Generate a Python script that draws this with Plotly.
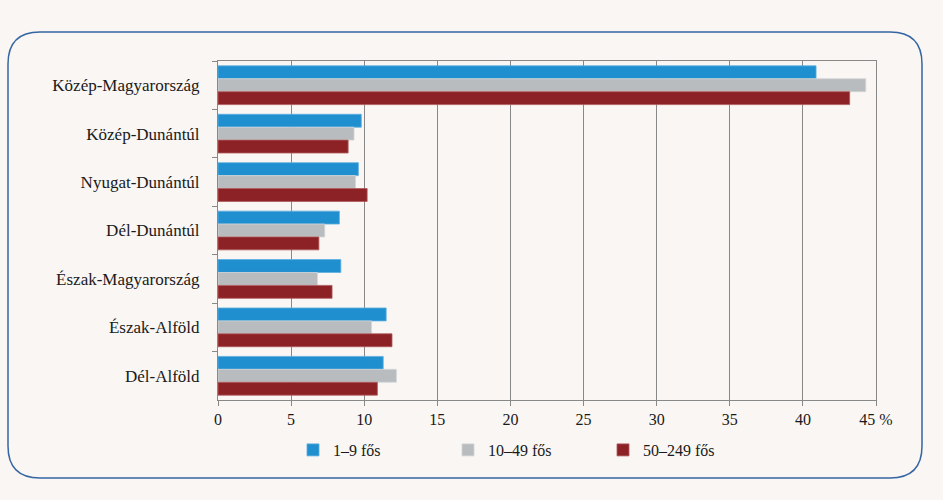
import plotly.graph_objects as go

regions = ["Közép-Magyarország", "Közép-Dunántúl", "Nyugat-Dunántúl", "Dél-Dunántúl",
           "Észak-Magyarország", "Észak-Alföld", "Dél-Alföld"]
size_1_9 = [40.9, 9.8, 9.6, 8.3, 8.4, 11.5, 11.3]
size_10_49 = [44.3, 9.3, 9.4, 7.3, 6.8, 10.5, 12.2]
size_50_249 = [43.2, 8.9, 10.2, 6.9, 7.8, 11.9, 10.9]
series_names = ["1–9 fős", "10–49 fős", "50–249 fős"]
x_ticks = [0, 5, 10, 15, 20, 25, 30, 35, 40, 45]
x_ticktext = ["0", "5", "10", "15", "20", "25", "30", "35", "40", "45 %"]

colors = ["#1f8fd0", "#b9bcbf", "#8c2226"]
edge = ["#5eaee0", "#d3d5d7", "#b05a5c"]
BG = "#f9f6f3"

W, H = 943, 500
ml, mr, mt, mb = 218, 67, 61, 100
pw, ph = W - ml - mr, H - mt - mb

fig = go.Figure()
for name, vals, c, e in zip(series_names, [size_1_9, size_10_49, size_50_249], colors, edge):
    fig.add_trace(go.Bar(y=regions, x=vals, name=name, orientation="h",
                         marker=dict(color=c, line=dict(color=e, width=0.8))))

def px2paper(x, y):
    return (x - ml) / pw, (H - mb - y) / ph

# rounded frame
x0, y0, x1, y1, r = 8, 32, 922, 478, 32
def P(x, y):
    a, b = px2paper(x, y)
    return f"{a:.5f},{b:.5f}"
path = (f"M {P(x0 + r, y0)} L {P(x1 - r, y0)} Q {P(x1, y0)} {P(x1, y0 + r)} "
        f"L {P(x1, y1 - r)} Q {P(x1, y1)} {P(x1 - r, y1)} "
        f"L {P(x0 + r, y1)} Q {P(x0, y1)} {P(x0, y1 - r)} "
        f"L {P(x0, y0 + r)} Q {P(x0, y0)} {P(x0 + r, y0)} Z")
fig.add_shape(type="path", path=path, xref="paper", yref="paper",
              line=dict(color="#3566a3", width=1.5), layer="below")

lx, _ = px2paper(293, 0)
_, ly = px2paper(0, 450)

serif = "Liberation Serif"
fig.update_layout(
    width=W, height=H,
    margin=dict(l=ml, r=mr, t=mt, b=mb),
    paper_bgcolor=BG, plot_bgcolor=BG,
    barmode="group", bargap=0.2, bargroupgap=0,
    font=dict(family=serif, size=16, color="#1a1a1a"),
    showlegend=True,
    legend=dict(orientation="h", x=lx, xanchor="left", y=ly, yanchor="middle",
                font=dict(family=serif, size=16), entrywidth=110, itemwidth=30,
                bgcolor="rgba(0,0,0,0)"),
    xaxis=dict(range=[0, 45], tickvals=x_ticks, ticktext=x_ticktext,
               showgrid=True, gridcolor="#888888", gridwidth=1,
               showline=True, linecolor="#888888", linewidth=1, mirror=True,
               ticks="outside", ticklen=5, tickcolor="#888888",
               zeroline=False, tickfont=dict(family=serif, size=16)),
    yaxis=dict(autorange="reversed", showline=True, linecolor="#888888", linewidth=1,
               mirror=True, ticks="outside", ticklen=5, tickcolor="#888888",
               tickson="boundaries", ticklabelstandoff=14,
               tickfont=dict(family=serif, size=17)),
)

fig.write_html("out.html", config={"displayModeBar": False},
               post_script=f"document.body.style.margin='0';document.body.style.background='{BG}';")
